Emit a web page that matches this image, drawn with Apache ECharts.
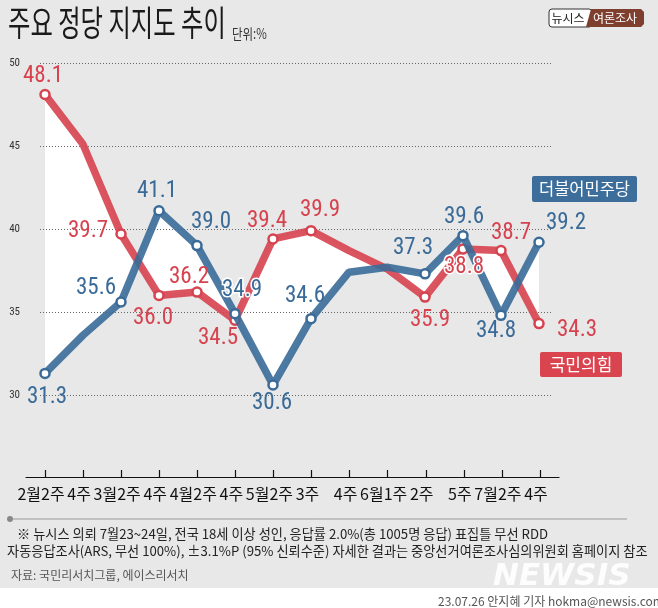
<!DOCTYPE html>
<html><head><meta charset="utf-8">
<script src="https://cdn.jsdelivr.net/npm/echarts@6/dist/echarts.min.js"></script>
<style>html,body{margin:0;padding:0;background:#e8e8e8;}#c{width:658px;height:608px;}</style>
</head><body><div id="c"></div>
<script>
// ---- data ----
const categories = ['2월2주','4주','3월2주','4주','4월2주','4주','5월2주','3주','4주','6월1주','2주','5주','7월2주','4주'];
const pppValues = [48.1, 45.1, 39.7, 36.0, 36.2, 34.5, 39.4, 39.9, 38.7, 37.6, 35.9, 38.8, 38.7, 34.3]; // 국민의힘
const demValues = [31.3, 33.6, 35.6, 41.1, 39.0, 34.9, 30.6, 34.6, 37.4, 37.7, 37.3, 39.6, 34.8, 39.2]; // 더불어민주당
const yTickValues = [30, 35, 40, 45, 50];
const seriesNames = ['국민의힘', '더불어민주당'];

// ---- label placement (pixel offsets from point, null = no marker/label) ----
const redOffsets = [[-2,-18], null, [-33,-3], [-6,23], [-8,-15], [-17,18], [-6,-18], [9,-20], null, null, [5,23], [1,18], [10,-17], [38,7]];
const blueOffsets = [[2,24], null, [-25,-14], [-2,-19], [14,-23], [7,-23], [-1,18], [-6,-22], null, null, [-12,-26], [1,-18], [-5,16], [27,-19]];
const haloRed = [11];
const haloBlue = [5];

const RED = '#d6434f', BLUE = '#3a6b98';
const NUMFONT = "'Liberation Sans Narrow','Roboto Condensed','Noto Sans CJK KR',sans-serif";
const KFONT = "'Noto Sans CJK KR','Noto Sans',sans-serif";

function lineItems(vals, offsets) {
  return vals.map((v, i) => offsets[i] ? { value: [i, v] } : { value: [i, v], symbol: 'none' });
}
function labelItems(vals, offsets, halo, color) {
  const out = [];
  vals.forEach((v, i) => {
    const off = offsets[i];
    if (!off) return;
    const isHalo = halo.indexOf(i) >= 0;
    out.push({ value: [i, v], label: { show: true, position: 'inside', offset: off, color: color, opacity: 1,
      fontSize: 23, fontFamily: NUMFONT, formatter: p => p.value[1].toFixed(1),
      textBorderColor: isHalo ? '#fff' : 'transparent', textBorderWidth: isHalo ? 3 : 0 } });
  });
  return out;
}

const chart = echarts.init(document.getElementById('c'), null, { renderer: 'canvas' });
const n = categories.length;
const option = {
  animation: false,
  backgroundColor: '#e8e8e8',
  grid: [
    { left: 40, right: 106, top: 63, bottom: 213 },
    { left: 26, right: 99, top: 420, bottom: 131 }
  ],
  xAxis: [
    { type: 'value', gridIndex: 0, min: -5/38, max: (n - 1) + 13/38, show: false },
    { type: 'category', gridIndex: 1, data: categories, boundaryGap: true,
      axisLine: { show: true, lineStyle: { color: '#111', width: 1.2 } },
      axisTick: { show: true, alignWithLabel: true, inside: true, length: 7, interval: 0, lineStyle: { color: '#111', width: 1.2 } },
      axisLabel: { interval: 0, fontSize: 16, color: '#111', margin: 9, fontFamily: KFONT, padding: [0, 8, 0, 0] },
      splitLine: { show: false } }
  ],
  yAxis: [
    { type: 'value', gridIndex: 0, min: yTickValues[0], max: yTickValues[yTickValues.length-1], interval: 5,
      axisLine: { show: false }, axisTick: { show: false },
      axisLabel: { fontSize: 11, color: '#333', margin: 20, fontFamily: NUMFONT },
      splitLine: { show: true, lineStyle: { color: '#666', width: 1, type: [1, 2] } } },
    { type: 'value', gridIndex: 1, show: false }
  ],
  series: [
    { type: 'custom', name: 'band', xAxisIndex: 0, yAxisIndex: 0, z: -1, silent: true,
      data: [0],
      renderItem: function (params, api) {
        const pts = [];
        for (let i = 0; i < n; i++) pts.push(api.coord([i, pppValues[i]]));
        for (let i = n - 1; i >= 0; i--) pts.push(api.coord([i, demValues[i]]));
        return { type: 'polygon', shape: { points: pts }, style: { fill: '#ffffff' } };
      } },
    { type: 'line', name: seriesNames[0], xAxisIndex: 0, yAxisIndex: 0, z: 3,
      data: lineItems(pppValues, redOffsets),
      symbol: 'circle', symbolSize: 9,
      itemStyle: { color: '#fff', borderColor: RED, borderWidth: 2.5 },
      lineStyle: { color: RED, width: 7.5, opacity: 0.9 },
      emphasis: { disabled: true } },
    { type: 'line', name: seriesNames[1], xAxisIndex: 0, yAxisIndex: 0, z: 4,
      data: lineItems(demValues, blueOffsets),
      symbol: 'circle', symbolSize: 9,
      itemStyle: { color: '#fff', borderColor: BLUE, borderWidth: 2.5 },
      lineStyle: { color: BLUE, width: 7.5, opacity: 0.9 },
      emphasis: { disabled: true } },
    { type: 'scatter', name: seriesNames[0] + ' 라벨', xAxisIndex: 0, yAxisIndex: 0, z: 10, silent: true,
      symbolSize: 0, itemStyle: { color: RED, opacity: 1 },
      data: labelItems(pppValues, redOffsets, haloRed, RED), emphasis: { disabled: true } },
    { type: 'scatter', name: seriesNames[1] + ' 라벨', xAxisIndex: 0, yAxisIndex: 0, z: 10, silent: true,
      symbolSize: 0, itemStyle: { color: BLUE, opacity: 1 },
      data: labelItems(demValues, blueOffsets, haloBlue, BLUE), emphasis: { disabled: true } }
  ],
  graphic: [
    { type: 'rect', left: 0, top: 588, shape: { width: 658, height: 20 }, style: { fill: '#ffffff' }, z: -10 },
    { type: 'text', x: 8, y: 5, scaleX: 0.695, style: { text: '주요 정당 지지도 추이', fontSize: 35, fill: '#1a1a1a', fontFamily: KFONT } },
    { type: 'text', x: 232, y: 27, scaleX: 0.82, style: { text: '단위:%', fontSize: 14, fill: '#333', fontFamily: KFONT } },
    // logo
    { type: 'rect', shape: { x: 549, y: 9, width: 43, height: 18, r: 3 }, style: { fill: '#fff', stroke: '#333', lineWidth: 1 } },
    { type: 'polygon', shape: { points: [[591,9],[641,9],[644,12],[644,24],[641,27],[586,27]] }, style: { fill: '#7e3f2f' } },
    { type: 'text', x: 568, y: 18, style: { text: '뉴시스', fontSize: 12, fill: '#222', align: 'center', verticalAlign: 'middle', fontFamily: KFONT } },
    { type: 'text', x: 615, y: 18, style: { text: '여론조사', fontSize: 12, fill: '#fff', align: 'center', verticalAlign: 'middle', fontFamily: KFONT } },
    // series tags
    { type: 'rect', shape: { x: 532, y: 176, width: 105, height: 26, r: 2 }, style: { fill: '#3d6e9b' } },
    { type: 'text', x: 584.5, y: 189, style: { text: seriesNames[1], fontSize: 16.5, fill: '#fff', align: 'center', verticalAlign: 'middle', fontFamily: KFONT } },
    { type: 'rect', shape: { x: 540, y: 352, width: 82, height: 25, r: 2 }, style: { fill: '#d9444f' } },
    { type: 'text', x: 581, y: 364.5, style: { text: seriesNames[0], fontSize: 17, fill: '#fff', align: 'center', verticalAlign: 'middle', fontFamily: KFONT } },
    // footnote
    { type: 'line', shape: { x1: 10, y1: 519, x2: 627, y2: 519 }, style: { stroke: '#999', lineWidth: 1 } },
    { type: 'circle', shape: { cx: 10, cy: 519, r: 3 }, style: { fill: '#888' } },
    { type: 'text', left: 17, top: 527, style: { text: '※ 뉴시스 의뢰 7월23~24일, 전국 18세 이상 성인, 응답률 2.0%(총 1005명 응답) 표집틀 무선 RDD', fontSize: 13.2, fill: '#222', fontFamily: KFONT } },
    { type: 'text', left: 7, top: 544, style: { text: '자동응답조사(ARS, 무선 100%), ±3.1%P (95% 신뢰수준) 자세한 결과는 중앙선거여론조사심의위원회 홈페이지 참조', fontSize: 13.2, fill: '#222', fontFamily: KFONT } },
    { type: 'text', left: 11, top: 569, style: { text: '자료: 국민리서치그룹, 에이스리서치', fontSize: 12, fill: '#555', fontFamily: KFONT } },
    { type: 'text', left: 493, top: 561, style: { text: 'NEWSIS', fontSize: 31, fontStyle: 'italic', fontWeight: 'bold', fill: 'rgba(255,255,255,0.9)', fontFamily: "'DejaVu Sans',sans-serif" } },
    { type: 'text', left: 438, top: 595, style: { text: '23.07.26 안지혜 기자 hokma@newsis.com', fontSize: 12, fill: '#555', fontFamily: KFONT } }
  ]
};
chart.setOption(option);
</script>
</body></html>
